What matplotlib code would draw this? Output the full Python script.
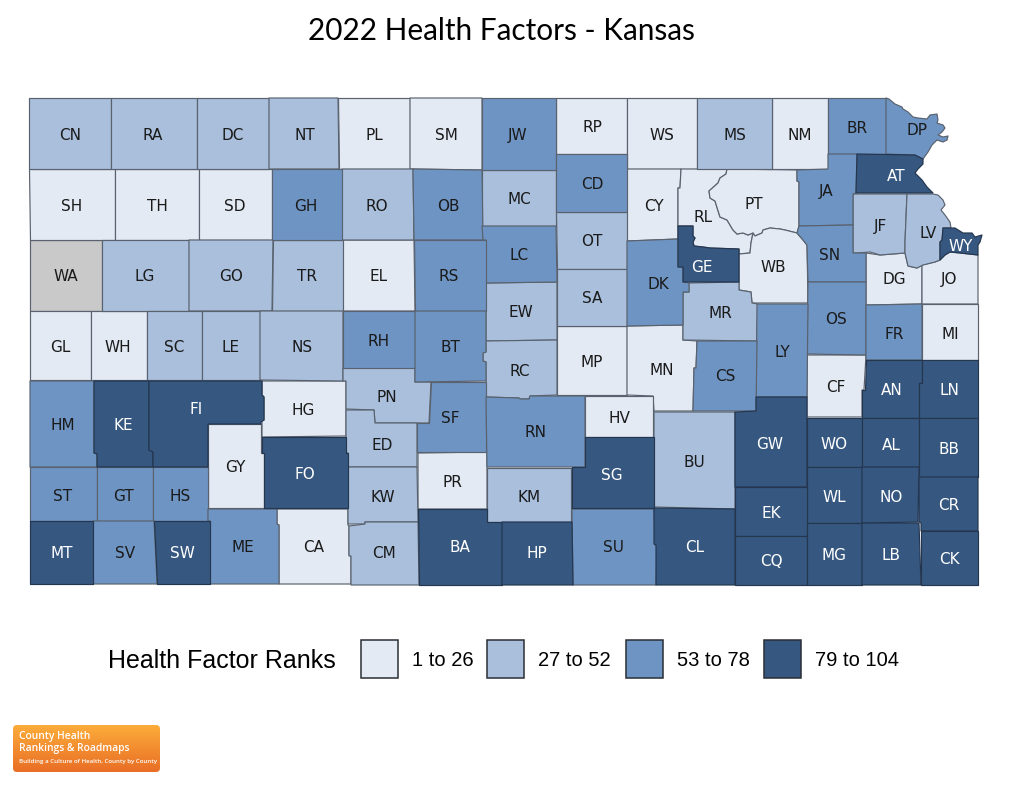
import numpy as np
import matplotlib
matplotlib.use("Agg")
import matplotlib.pyplot as plt
from matplotlib.patches import Polygon, Rectangle, FancyBboxPatch

# rank groups, WA has no rank
group_labels = ["1 to 26", "27 to 52", "53 to 78", "79 to 104"]
group_colors = ["#E3EAF4", "#A9BFDC", "#6E94C3", "#36577F"]
no_data_color = "#C9C9C9"

group_1 = ["PL", "SM", "RP", "WS", "NM", "SH", "TH", "SD", "CY", "RL", "PT", "EL", "WB",
           "DG", "JO", "MI", "GL", "WH", "MP", "MN", "HG", "HV", "CF", "GY", "PR", "CA"]
group_2 = ["CN", "RA", "DC", "NT", "MS", "RO", "MC", "OT", "JF", "LV", "LG", "GO", "TR",
           "EW", "SA", "MR", "SC", "LE", "NS", "RC", "PN", "ED", "KW", "CM", "KM", "BU"]
group_3 = ["JW", "BR", "DP", "CD", "GH", "OB", "JA", "LC", "RS", "DK", "SN", "OS", "FR",
           "LY", "CS", "RH", "BT", "HM", "SF", "RN", "ST", "GT", "HS", "SV", "ME", "SU"]
group_4 = ["AT", "GE", "WY", "KE", "FI", "FO", "SG", "GW", "AN", "LN", "WO", "AL", "BB",
           "WL", "NO", "CR", "EK", "CQ", "MG", "LB", "CK", "MT", "SW", "BA", "HP", "CL"]
no_data = ["WA"]

# county outlines in image pixels
outlines = {
    "CN": [(29,98),(111,98),(111,169),(29,169)],
    "RA": [(111,98),(197,98),(197,169),(111,169)],
    "DC": [(197,98),(269,98),(269,169),(197,169)],
    "NT": [(269,98),(338,98),(339,169),(269,169)],
    "PL": [(338,98),(410,98),(410,169),(339,169)],
    "SM": [(410,98),(482,98),(482,170),(410,169)],
    "JW": [(482,98),(556,98),(556,170),(482,170)],
    "RP": [(556,98),(627,98),(627,154),(556,154)],
    "CD": [(556,154),(627,154),(627,212),(556,212)],
    "WS": [(627,98),(697,98),(697,169),(627,169)],
    "MS": [(697,98),(772,98),(772,169),(697,169)],
    "NM": [(772,98),(828,98),(828,169),(772,169)],
    "BR": [(828,98),(886,98),(886,154),(828,154)],
    "DP": [(886,98),(889,99),(895,104),(902,107),(903,109),(908,112),(913,117),(918,118),(927,119),
           (930,115),(937,114),(938,120),(937,123),(943,125),(945,128),(942,132),(938,135),(943,137),
           (948,136),(947,140),(943,142),(937,140),(932,145),(928,152),(923,159),(915,155),(886,154)],
    "AT": [(857,154),(915,155),(923,159),(923,164),(918,169),(915,173),(922,180),(927,187),(933,193),(856,193)],
    "JA": [(797,170),(828,169),(828,154),(857,154),(856,193),(853,194),(853,225),(799,226),(799,182),(797,181)],
    "CY": [(627,169),(681,169),(680,188),(678,188),(678,239),(627,241)],
    "RL": [(681,169),(727,169),(726,174),(720,178),(718,183),(709,191),(710,198),(715,201),(720,217),
           (727,220),(733,230),(737,234),(743,233),(748,235),(753,233),(751,243),(750,253),(739,254),
           (739,249),(710,248),(703,247),(694,246),(693,242),(695,238),(693,236),(693,226),(678,226),(678,188),(680,188)],
    "PT": [(727,169),(797,170),(797,181),(799,182),(799,226),(797,233),(793,232),(785,230),(780,229),
           (770,228),(763,230),(762,233),(755,236),(753,233),(748,235),(743,233),(737,234),(733,230),
           (727,220),(720,217),(715,201),(710,198),(709,191),(718,183),(720,178),(726,174)],
    "GE": [(678,226),(693,226),(693,236),(695,238),(693,242),(694,246),(703,247),(710,248),(739,249),
           (739,282),(683,282),(683,267),(678,267)],
    "DK": [(627,241),(678,239),(678,267),(683,267),(683,282),(689,283),(689,292),(683,292),(683,325),(627,326)],
    "WB": [(753,233),(755,236),(762,233),(763,230),(770,228),(780,229),(785,230),(793,232),(797,233),
           (803,240),(807,245),(808,303),(752,303),(751,292),(739,290),(739,254),(750,253),(751,243)],
    "SN": [(799,226),(853,225),(853,253),(866,253),(866,282),(808,282),(807,245),(803,240),(797,233)],
    "JF": [(853,194),(907,194),(905,242),(905,253),(880,255),(870,252),(857,253),(853,253)],
    "LV": [(907,194),(933,194),(938,195),(943,200),(945,205),(941,210),(945,215),(950,222),(951,228),
           (943,228),(942,240),(940,242),(940,260),(935,262),(923,265),(917,268),(908,266),(905,253),(905,242)],
    "WY": [(943,228),(955,228),(963,233),(972,233),(975,237),(982,235),(980,242),(978,245),(978,255),
           (960,253),(950,252),(945,255),(940,260),(940,242),(942,240)],
    "DG": [(866,253),(880,255),(905,253),(908,266),(917,268),(922,265),(922,304),(866,305)],
    "JO": [(922,265),(935,262),(940,260),(945,255),(950,252),(960,253),(978,255),(978,304),(922,304)],
    "MI": [(922,304),(978,304),(978,360),(922,360)],
    "FR": [(866,305),(922,304),(922,360),(866,360)],
    "OS": [(808,282),(866,282),(866,355),(807,354)],
    "CF": [(807,355),(866,355),(864,390),(862,390),(862,417),(807,417)],
    "AN": [(866,360),(922,360),(922,383),(919,383),(919,418),(862,418),(862,390),(865,390)],
    "LN": [(922,360),(978,360),(978,418),(919,418),(919,383),(922,383)],
    "BB": [(919,418),(978,418),(978,477),(919,477)],
    "CR": [(919,477),(978,477),(978,531),(921,531),(921,523),(919,522)],
    "CK": [(921,531),(978,531),(978,585),(921,585)],
    "AL": [(862,418),(919,418),(919,467),(862,467)],
    "NO": [(862,467),(919,467),(918,522),(862,523)],
    "LB": [(862,523),(919,523),(921,585),(862,585)],
    "WO": [(807,418),(862,418),(862,467),(807,467)],
    "WL": [(807,467),(862,467),(862,523),(807,523)],
    "MG": [(807,523),(862,523),(862,585),(807,585)],
    "GW": [(756,397),(807,397),(807,487),(735,487),(735,412),(756,411)],
    "EK": [(735,487),(807,487),(807,536),(735,536)],
    "CQ": [(735,536),(807,536),(807,585),(735,585)],
    "LY": [(757,304),(808,304),(807,397),(756,397)],
    "CS": [(697,341),(757,341),(756,411),(693,411),(694,368),(696,368)],
    "MR": [(683,292),(689,292),(689,283),(739,282),(739,290),(751,292),(752,303),(758,304),(757,341),(683,340)],
    "MN": [(627,326),(683,325),(683,340),(697,341),(696,368),(694,368),(693,411),(654,411),(653,396),(627,395)],
    "MP": [(557,326),(627,326),(627,395),(557,395)],
    "HV": [(585,396),(653,396),(653,437),(585,437)],
    "BU": [(654,412),(735,412),(735,509),(654,507)],
    "SG": [(585,437),(654,437),(654,508),(572,508),(572,467),(585,467)],
    "CL": [(654,508),(735,509),(735,585),(656,585),(656,545),(654,544)],
    "SU": [(572,509),(654,509),(655,545),(657,545),(656,585),(573,585)],
    "RN": [(486,397),(519,398),(520,399),(529,399),(530,396),(585,396),(585,467),(487,467)],
    "RC": [(486,341),(557,340),(557,395),(530,396),(529,399),(520,399),(519,398),(486,397),(486,362),
           (483,361),(483,353),(486,352)],
    "EW": [(486,283),(557,282),(557,340),(486,341)],
    "SA": [(557,269),(627,269),(627,326),(557,326)],
    "OT": [(556,212),(627,212),(627,269),(557,269)],
    "LC": [(482,226),(556,226),(557,282),(486,283),(486,240),(483,240)],
    "MC": [(482,170),(556,170),(556,226),(482,226)],
    "RS": [(414,240),(486,240),(486,311),(415,311)],
    "OB": [(413,169),(482,170),(483,240),(414,240)],
    "RO": [(342,169),(413,169),(414,240),(342,240)],
    "GH": [(272,169),(342,169),(342,240),(272,240)],
    "SD": [(199,169),(272,169),(272,240),(199,240)],
    "TH": [(115,169),(199,169),(199,240),(115,240)],
    "SH": [(29,169),(115,169),(115,240),(30,240)],
    "WA": [(30,240),(102,240),(102,311),(30,311)],
    "LG": [(102,240),(189,240),(189,311),(102,311)],
    "GO": [(189,240),(273,240),(272,311),(189,311)],
    "TR": [(273,240),(343,240),(343,311),(272,311)],
    "EL": [(343,240),(414,240),(415,311),(343,311)],
    "GL": [(30,311),(91,311),(91,380),(30,380)],
    "WH": [(91,311),(147,311),(147,380),(91,380)],
    "SC": [(147,311),(202,311),(202,380),(147,380)],
    "LE": [(202,311),(260,311),(260,380),(202,380)],
    "NS": [(260,311),(343,311),(343,381),(260,380)],
    "RH": [(343,311),(415,311),(415,368),(343,368)],
    "BT": [(415,311),(486,311),(486,352),(483,353),(483,361),(486,362),(486,381),(415,382)],
    "SF": [(431,382),(486,382),(486,452),(417,452),(417,423),(429,423)],
    "PN": [(343,368),(415,368),(415,382),(431,382),(429,423),(375,423),(374,410),(346,409),(346,381),(343,381)],
    "HG": [(262,381),(346,381),(346,436),(262,437),(262,420),(264,420),(264,397),(262,395)],
    "ED": [(346,410),(374,410),(375,423),(417,423),(417,467),(348,467),(348,453),(346,453)],
    "FO": [(262,437),(346,437),(346,453),(348,453),(348,508),(264,508),(264,453),(262,453)],
    "KW": [(348,467),(417,467),(418,522),(365,522),(365,524),(348,524)],
    "PR": [(418,453),(487,452),(487,509),(418,509)],
    "KM": [(487,468),(571,468),(571,522),(487,522)],
    "BA": [(418,509),(487,509),(487,522),(502,522),(502,585),(419,585)],
    "HP": [(502,522),(572,522),(573,585),(502,585)],
    "CM": [(349,526),(365,524),(365,522),(418,522),(419,585),(351,585),(351,556),(349,556)],
    "CA": [(277,509),(348,509),(348,525),(349,526),(349,555),(351,556),(351,584),(279,584),(279,525),(277,524)],
    "ME": [(208,509),(277,509),(277,524),(279,525),(279,584),(210,584),(210,521),(208,521)],
    "GY": [(208,424),(261,424),(261,453),(264,453),(264,508),(208,508)],
    "FI": [(149,381),(262,381),(262,395),(264,397),(264,420),(261,422),(261,424),(208,424),(208,467),
           (153,467),(153,452),(149,450)],
    "KE": [(94,381),(149,381),(149,450),(153,452),(153,467),(97,467),(97,454),(94,453)],
    "HM": [(30,381),(94,381),(94,453),(97,454),(97,467),(30,467)],
    "ST": [(30,467),(97,467),(97,521),(30,521)],
    "GT": [(97,467),(153,467),(153,521),(97,521)],
    "HS": [(153,467),(208,467),(208,521),(153,521)],
    "MT": [(30,521),(93,521),(93,584),(30,584)],
    "SV": [(93,521),(154,521),(157,584),(93,584)],
    "SW": [(154,521),(210,521),(210,584),(157,584)],
}

label_xy = {
    "CN": (70,134), "RA": (153,134), "DC": (233,134), "NT": (305,134), "PL": (374,134), "SM": (446,134),
    "JW": (518,134), "RP": (592,126), "WS": (662,134), "MS": (735,134), "NM": (800,134), "BR": (857,127),
    "DP": (917,129), "SH": (72,205), "TH": (157,205), "SD": (235,205), "GH": (306,205), "RO": (377,205),
    "OB": (448,205), "MC": (519,198), "CD": (592,183), "CY": (654,205), "RL": (703,216), "PT": (754,203),
    "JA": (826,190), "AT": (896,175), "OT": (592,240), "JF": (880,225), "LV": (928,232), "WY": (961,245),
    "WA": (66,275), "LG": (145,275), "GO": (231,275), "TR": (307,275), "EL": (379,275), "RS": (449,275),
    "LC": (519,254), "SA": (592,297), "DK": (658,283), "GE": (702,266), "WB": (773,266), "SN": (830,254),
    "DG": (894,278), "JO": (949,278), "EW": (521,311), "MR": (720,312), "OS": (836,318), "FR": (894,333),
    "MI": (950,333), "LY": (782,351), "GL": (60,346), "WH": (118,346), "SC": (174,346), "LE": (231,346),
    "NS": (302,346), "RH": (379,340), "BT": (450,346), "RC": (520,370), "MP": (592,361), "MN": (662,369),
    "CS": (725,375), "HM": (63,424), "KE": (123,424), "FI": (196,408), "HG": (303,409), "PN": (387,396),
    "SF": (450,417), "RN": (535,431), "HV": (619,417), "CF": (836,386), "AN": (892,389), "LN": (949,389),
    "ED": (382,444), "GW": (770,443), "WO": (834,443), "AL": (891,444), "BB": (949,448), "BU": (694,461),
    "GY": (235,466), "FO": (305,473), "PR": (452,481), "KM": (529,496), "SG": (612,474), "ST": (63,495),
    "GT": (124,495), "HS": (180,495), "KW": (383,496), "WL": (834,496), "NO": (891,496), "CR": (949,504),
    "EK": (771,512), "MT": (62,552), "SV": (125,553), "SW": (182,553), "ME": (243,547), "CA": (314,547),
    "CM": (384,553), "BA": (460,547), "HP": (537,553), "SU": (614,547), "CL": (695,546), "CQ": (771,561),
    "MG": (834,554), "LB": (891,554), "CK": (949,558),
}

fig = plt.figure(figsize=(10.10, 7.88), dpi=100)
ax = fig.add_axes([0, 0, 1, 1])

ax.text(501, 31, "2022 Health Factors - Kansas", family="Lato", fontsize=21.4,
        ha="center", va="center", color="black")

# light groups first so the dark outlines stay on top
groups = [(no_data, no_data_color), (group_1, group_colors[0]), (group_2, group_colors[1]),
          (group_3, group_colors[2]), (group_4, group_colors[3])]
for z, (codes, color) in enumerate(groups):
    edge = "#243650" if color == group_colors[3] else "#59626E"
    for code in codes:
        ax.add_patch(Polygon(outlines[code], closed=True, facecolor=color, edgecolor=edge,
                             linewidth=0.85, joinstyle="round", zorder=2 + z * 0.1))
        x, y = label_xy[code]
        txt_color = "white" if color == group_colors[3] else "#1A1A1A"
        ax.text(x, y + 1, code, family="DejaVu Sans", fontsize=11, color=txt_color,
                ha="center", va="center", zorder=5)

# legend
ax.text(108, 661, "Health Factor Ranks", family="Liberation Sans", fontsize=18,
        ha="left", va="center", color="black")
swatch_x = [361, 487, 626, 764]
text_x = [412, 538, 677, 815]
for sx, tx, color, label in zip(swatch_x, text_x, group_colors, group_labels):
    ax.add_patch(Rectangle((sx, 640), 37, 38, facecolor=color, edgecolor="#2A2F36", linewidth=1.1))
    ax.text(tx, 661, label, family="Liberation Sans", fontsize=14.5, ha="left", va="center", color="black")

# logo, orange gradient inside a rounded box
top = np.array([252, 172, 58]) / 255
bottom = np.array([233, 110, 38]) / 255
logo_img = np.linspace(top, bottom, 64).reshape(64, 1, 3)
im = ax.imshow(logo_img, extent=(13, 160, 772, 725), aspect="auto", zorder=3)
box = FancyBboxPatch((17, 729), 139, 39, boxstyle="round,pad=4", linewidth=0, facecolor="none")
ax.add_patch(box)
im.set_clip_path(box)
ax.text(19, 736, "County Health", family="Open Sans", fontsize=7.4, color="white", ha="left", va="center",
        fontweight="semibold", zorder=4)
ax.text(19, 748, "Rankings & Roadmaps", family="Open Sans", fontsize=7.4, color="white", ha="left", va="center",
        fontweight="semibold", zorder=4)
ax.text(19, 762, "Building a Culture of Health, County by County", family="Open Sans", fontsize=4.4,
        color="white", ha="left", va="center", fontweight="semibold", zorder=4)

ax.set_xlim(0, 1010)
ax.set_ylim(788, 0)
ax.axis("off")

fig.savefig("out.png", dpi=100)
